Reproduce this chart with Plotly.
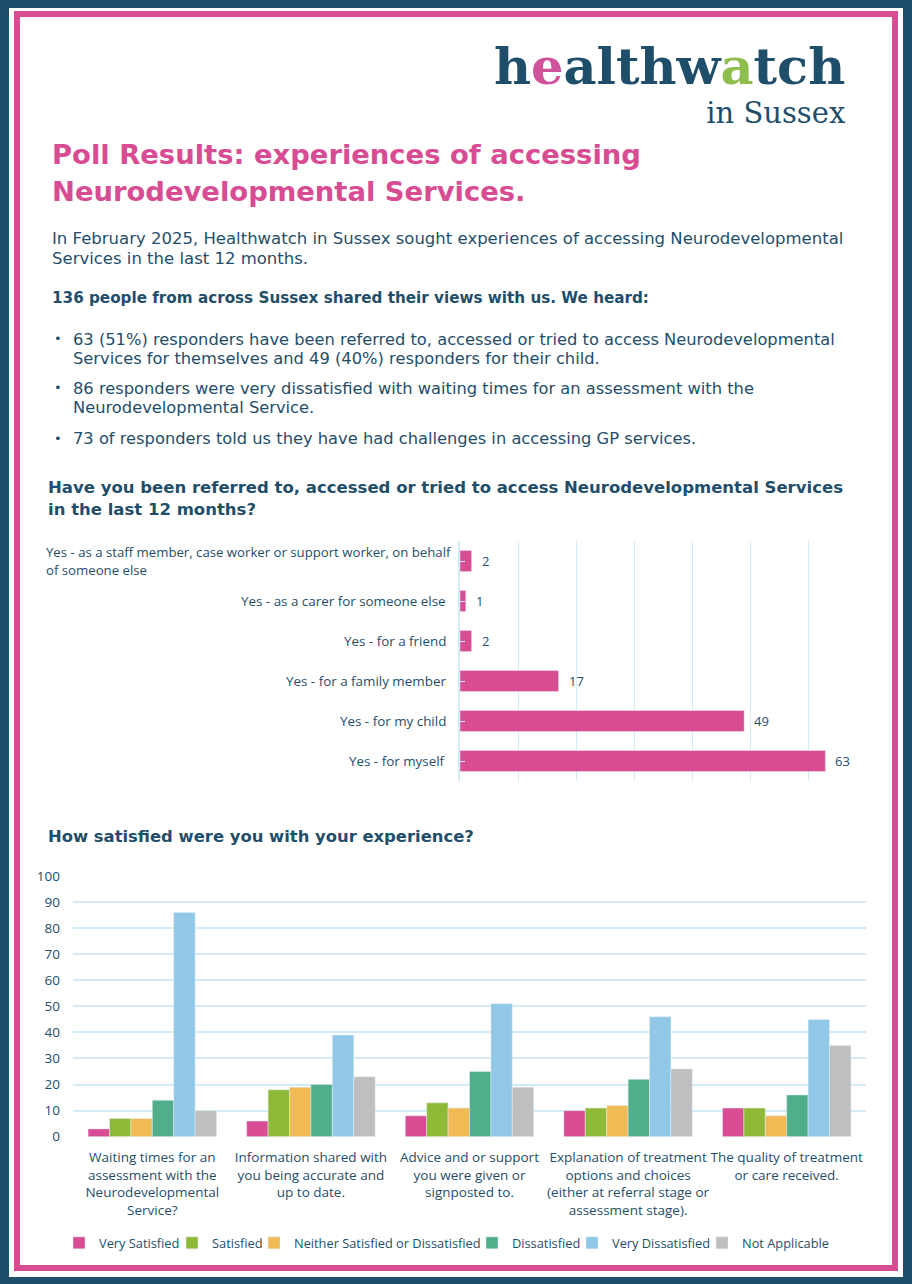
import plotly.graph_objects as go

W, H = 912, 1284
NAVY = "#1f4e6b"
PINK = "#d84c94"
GRID = "#d3eaf7"

def px(x):
    return x / W

def py(y):
    return 1 - y / H

# ---------------- data ----------------
referral_categories = [
    "Yes - for myself",
    "Yes - for my child",
    "Yes - for a family member",
    "Yes - for a friend",
    "Yes - as a carer for someone else",
    "Yes - as a staff member, case worker or support worker, on behalf<br>of someone else",
]
referral_values = [63, 49, 17, 2, 1, 2]

sat_categories = [
    "Waiting times for an<br>assessment with the<br>Neurodevelopmental<br>Service?",
    "Information shared with<br>you being accurate and<br>up to date.",
    "Advice and or support<br>you were given or<br>signposted to.",
    "Explanation of treatment<br>options and choices<br>(either at referral stage or<br>assessment stage).",
    "The quality of treatment<br>or care received.",
]
sat_series = ["Very Satisfied", "Satisfied", "Neither Satisfied or Dissatisfied",
              "Dissatisfied", "Very Dissatisfied", "Not Applicable"]
very_satisfied = [3, 6, 8, 10, 11]
satisfied = [7, 18, 13, 11, 11]
neither = [7, 19, 11, 12, 8]
dissatisfied = [14, 20, 25, 22, 16]
very_dissatisfied = [86, 39, 51, 46, 45]
not_applicable = [10, 23, 19, 26, 35]
sat_values = [very_satisfied, satisfied, neither, dissatisfied, very_dissatisfied, not_applicable]
sat_colors = ["#d84c94", "#8fba38", "#f0bb55", "#50ae8b", "#91c8e7", "#bfbfbf"]

FONT = "Open Sans"
BODY = "DejaVu Sans"

fig = go.Figure()

# ---------- chart 1: horizontal bars ----------
fig.add_trace(go.Bar(
    x=referral_values, y=list(range(len(referral_categories))),
    orientation="h", marker_color=PINK, width=0.53,
    xaxis="x", yaxis="y", showlegend=False, hoverinfo="x",
))

# ---------- chart 2: grouped bars ----------
legend_ids = ["legend", "legend2", "legend3", "legend4", "legend5", "legend6"]
for name, vals, col, lg in zip(sat_series, sat_values, sat_colors, legend_ids):
    fig.add_trace(go.Bar(
        x=sat_categories, y=vals, name=name, marker_color=col,
        xaxis="x2", yaxis="y2", legend=lg,
    ))

annotations = []

def block(x, y_lines, lines, size, color=NAVY, bold=False, xanchor="left",
          family=BODY, align="left"):
    """Multi-line text block; line pitch set through the base font size."""
    if len(y_lines) > 1:
        pitch = (y_lines[-1] - y_lines[0]) / (len(y_lines) - 1)
        base = pitch / 1.3
    else:
        base = size
    parts = []
    for s in lines:
        t = "<span style='font-size:%.2fpx'>%s</span>" % (size, s)
        if bold:
            t = "<b>" + t + "</b>"
        parts.append(t)
    annotations.append(dict(
        x=px(x), y=py(sum(y_lines) / len(y_lines)), xref="paper", yref="paper",
        text="<br>".join(parts), showarrow=False,
        xanchor=xanchor, yanchor="middle", align=align,
        font=dict(family=family, size=base, color=color),
    ))

# logo (two lines of different size)
logo_line1 = ("<b><span style='font-size:51px'>h<span style='color:#d0529a'>e</span>"
              "althw<span style='color:#8fbe4f'>a</span>tch</span></b>")
logo_line2 = "<span style='font-size:29px'>in Sussex</span>"
annotations.append(dict(
    x=px(847), y=py(83), xref="paper", yref="paper", showarrow=False,
    xanchor="right", yanchor="middle", align="right",
    text=logo_line1 + "<br>" + logo_line2,
    font=dict(family="DejaVu Serif", size=30.2, color=NAVY),
))

# title
block(50, [154, 191], ["Poll Results: experiences of accessing", "Neurodevelopmental Services."],
      27.4, PINK, True)

# intro
block(50, [238, 258], ["In February 2025, Healthwatch in Sussex sought experiences of accessing Neurodevelopmental",
                       "Services in the last 12 months."], 16.5)
block(50, [298], ["136 people from across Sussex shared their views with us. We heard:"], 15.2, bold=True)

bullets = [
    ([339, 358], ["63 (51%) responders have been referred to, accessed or tried to access Neurodevelopmental",
                  "Services for themselves and 49 (40%) responders for their child."]),
    ([388, 407], ["86 responders were very dissatisfied with waiting times for an assessment with the",
                  "Neurodevelopmental Service."]),
    ([438], ["73 of responders told us they have had challenges in accessing GP services."]),
]
for ys, lines in bullets:
    block(52, [ys[0]], ["•"], 13)
    block(71, ys, lines, 16.3)

block(46, [488, 510], ["Have you been referred to, accessed or tried to access Neurodevelopmental Services",
                       "in the last 12 months?"], 16.5, bold=True)
block(46, [836], ["How satisfied were you with your experience?"], 16.4, bold=True)

# chart 1 category labels
for i, cat in enumerate(referral_categories):
    if "<br>" in cat:
        annotations.append(dict(
            x=px(44), y=i, xref="paper", yref="y", showarrow=False,
            text="<br>".join("<span style='font-size:13.2px'>%s</span>" % s for s in cat.split("<br>")),
            xanchor="left", yanchor="middle", align="left",
            font=dict(family=FONT, size=13.8, color=NAVY),
        ))
    else:
        annotations.append(dict(
            x=px(448), y=i, xref="paper", yref="y", text=cat, showarrow=False,
            xanchor="right", yanchor="middle", align="right",
            font=dict(family=FONT, size=13.4, color=NAVY),
        ))
# chart 1 value labels
for i, v in enumerate(referral_values):
    annotations.append(dict(
        x=v, y=i, xref="x", yref="y", text=str(v), showarrow=False,
        xanchor="left", yanchor="middle", xshift=8,
        font=dict(family=FONT, size=13, color=NAVY),
    ))

shapes = [
    # white page
    dict(type="rect", xref="paper", yref="paper", x0=px(9), x1=px(903), y0=py(1277), y1=py(8),
         fillcolor="white", line=dict(width=0), layer="below"),
    # pink frame
    dict(type="rect", xref="paper", yref="paper", x0=px(17), x1=px(895), y0=py(1268), y1=py(14),
         fillcolor="rgba(0,0,0,0)", line=dict(color=PINK, width=6), layer="below"),
]

# legends: text start positions (px) of each entry
legend_text_x = [99, 212, 294, 512, 612, 742]
legend_layouts = {}
for lg, tx in zip(legend_ids, legend_text_x):
    legend_layouts[lg] = dict(
        orientation="h", x=px(tx - 40), xanchor="left", y=py(1243), yanchor="middle",
        font=dict(family=FONT, size=12.8, color=NAVY),
        bgcolor="rgba(255,255,255,0)", borderwidth=0, itemwidth=30,
    )

fig.update_layout(
    width=W, height=H,
    margin=dict(l=0, r=0, t=0, b=0, autoexpand=False),
    paper_bgcolor=NAVY,
    plot_bgcolor="white",
    barmode="group", bargap=0.19, bargroupgap=0,
    font=dict(family=FONT, color=NAVY),
    xaxis=dict(domain=[px(460), px(866)], range=[0, 70], dtick=10,
               showgrid=True, gridcolor=GRID, gridwidth=1.2,
               showticklabels=False, zeroline=False, fixedrange=True,
               anchor="y"),
    yaxis=dict(domain=[py(781), py(541)], range=[-0.5, 5.5],
               showticklabels=False, showgrid=False, zeroline=False,
               showline=True, linecolor=GRID, linewidth=1.5,
               ticks="inside", tickson="boundaries", ticklen=5, tickcolor=GRID,
               tickvals=list(range(6)), anchor="x"),
    xaxis2=dict(domain=[px(73), px(866)], anchor="y2",
                showgrid=False, showline=False, zeroline=False, tickangle=0,
                tickfont=dict(family=FONT, size=13.5, color=NAVY),
                ticklabelstandoff=11),
    yaxis2=dict(domain=[py(1136.7), py(876)], range=[0, 100], dtick=10, anchor="x2",
                showgrid=True, gridcolor=GRID, gridwidth=1.5, zeroline=False,
                tickfont=dict(family=FONT, size=13.5, color=NAVY),
                ticklabelstandoff=12),
    annotations=annotations,
    shapes=shapes,
    **legend_layouts,
)

fig.write_html("out.html", config={"displayModeBar": False},
               post_script="document.body.style.margin='0';document.body.style.overflow='hidden';")
